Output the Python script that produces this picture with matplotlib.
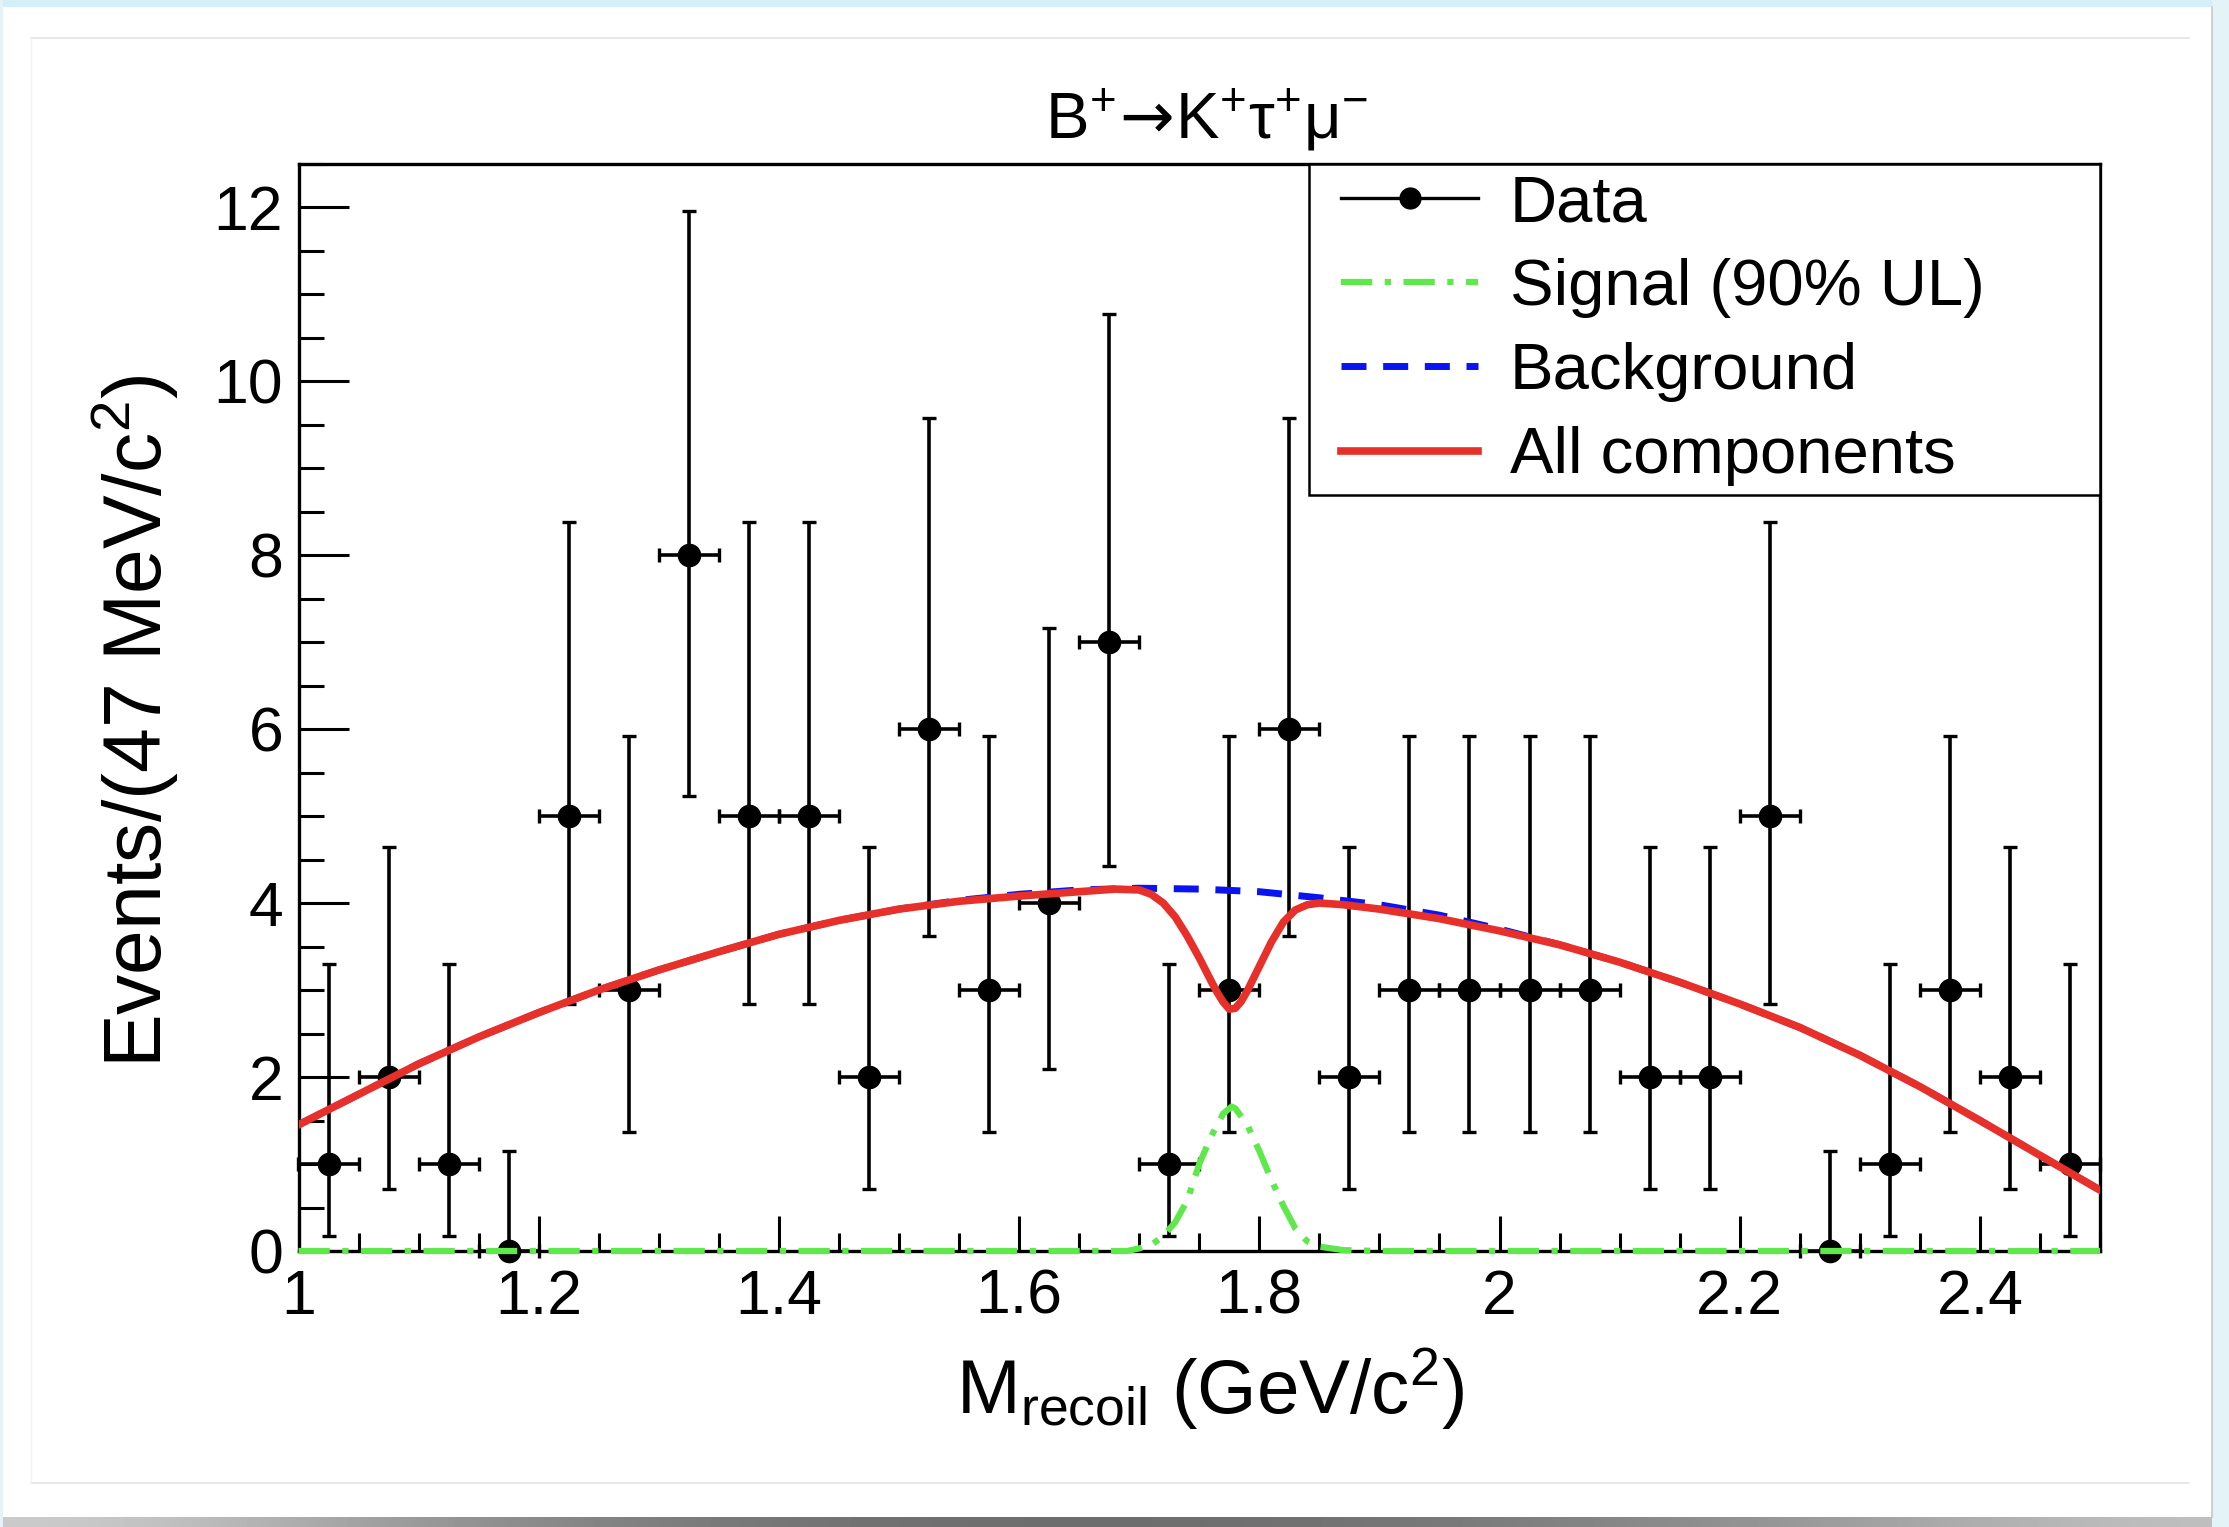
import matplotlib
matplotlib.use('Agg')
import matplotlib.pyplot as plt
from matplotlib.lines import Line2D
from matplotlib.patches import Rectangle
from matplotlib.ticker import MultipleLocator
import numpy as np

plt.rcParams['font.family'] = ['Liberation Sans', 'DejaVu Sans']
plt.rcParams['mathtext.fontset'] = 'custom'
plt.rcParams['mathtext.rm'] = 'Liberation Sans'
plt.rcParams['mathtext.it'] = 'Liberation Sans:italic'
plt.rcParams['mathtext.bf'] = 'Liberation Sans:bold'
plt.rcParams['mathtext.sf'] = 'DejaVu Sans'

W, H = 2229, 1527

# binned data (50 MeV wide bins)
bin_x = [1.025, 1.075, 1.125, 1.175, 1.225, 1.275, 1.325, 1.375, 1.425, 1.475,
         1.525, 1.575, 1.625, 1.675, 1.725, 1.775, 1.825, 1.875, 1.925, 1.975,
         2.025, 2.075, 2.125, 2.175, 2.225, 2.275, 2.325, 2.375, 2.425, 2.475]
counts = [1, 2, 1, 0, 5, 3, 8, 5, 5, 2,
          6, 3, 4, 7, 1, 3, 6, 2, 3, 3,
          3, 3, 2, 2, 5, 0, 1, 3, 2, 1]
# asymmetric poisson errors
err_lo = [0.83, 1.29, 0.83, 0.00, 2.16, 1.63, 2.77, 2.16, 2.16, 1.29,
          2.38, 1.63, 1.91, 2.58, 0.83, 1.63, 2.38, 1.29, 1.63, 1.63,
          1.63, 1.63, 1.29, 1.29, 2.16, 0.00, 0.83, 1.63, 1.29, 0.83]
err_hi = [2.30, 2.64, 2.30, 1.15, 3.38, 2.92, 3.95, 3.38, 3.38, 2.64,
          3.58, 2.92, 3.16, 3.77, 2.30, 2.92, 3.58, 2.64, 2.92, 2.92,
          2.92, 2.92, 2.64, 2.64, 3.38, 1.15, 2.30, 2.92, 2.64, 2.30]
half_bin = 0.025

# background curve
bkg_x = [1.00, 1.05, 1.10, 1.15, 1.20, 1.25, 1.30, 1.35, 1.40, 1.45, 1.50,
         1.55, 1.60, 1.65, 1.70, 1.75, 1.80, 1.85, 1.90, 1.95, 2.00,
         2.05, 2.10, 2.15, 2.20, 2.25, 2.30, 2.35, 2.40, 2.45, 2.50]
bkg_y = [1.45, 1.80, 2.15, 2.46, 2.74, 3.00, 3.23, 3.44, 3.64, 3.80, 3.93,
         4.03, 4.10, 4.15, 4.17, 4.16, 4.13, 4.06, 3.98, 3.86, 3.70,
         3.52, 3.32, 3.09, 2.84, 2.57, 2.25, 1.89, 1.50, 1.10, 0.70]

# signal at the 90% UL
sig_x = [1.00, 1.50, 1.69, 1.70, 1.71, 1.72, 1.73, 1.74, 1.75, 1.76, 1.77, 1.777,
         1.78, 1.79, 1.80, 1.81, 1.82, 1.83, 1.84, 1.85, 1.86, 1.87, 1.90, 2.20, 2.50]
sig_y = [0.00, 0.00, 0.00, 0.03, 0.07, 0.17, 0.33, 0.58, 1.00, 1.32, 1.58, 1.66,
         1.64, 1.45, 1.15, 0.82, 0.52, 0.26, 0.11, 0.05, 0.03, 0.01, 0.00, 0.00, 0.00]

# full fit
tot_x = [1.00, 1.05, 1.10, 1.15, 1.20, 1.25, 1.30, 1.35, 1.40, 1.45, 1.50,
         1.55, 1.60, 1.65, 1.68, 1.70, 1.71, 1.72, 1.73, 1.74, 1.75, 1.76,
         1.765, 1.77, 1.775, 1.78, 1.785, 1.79, 1.80, 1.81, 1.82, 1.83,
         1.84, 1.85, 1.87, 1.90, 1.95, 2.00, 2.05, 2.10, 2.15, 2.20,
         2.25, 2.30, 2.35, 2.40, 2.45, 2.50]
tot_y = [1.45, 1.80, 2.15, 2.46, 2.74, 3.00, 3.23, 3.44, 3.64, 3.80, 3.93,
         4.02, 4.08, 4.13, 4.16, 4.15, 4.10, 4.00, 3.84, 3.62, 3.37, 3.10,
         2.97, 2.86, 2.78, 2.79, 2.87, 2.99, 3.27, 3.55, 3.78, 3.92,
         3.98, 4.00, 3.98, 3.93, 3.82, 3.68, 3.52, 3.32, 3.09, 2.84,
         2.57, 2.25, 1.89, 1.50, 1.10, 0.70]

labels = ['Data', 'Signal (90% UL)', 'Background', 'All components']

GREEN = '#5ee84c'
BLUE = '#0a14f0'
RED = '#e8302a'
sig_style = dict(color=GREEN, lw=4.5, dashes=(5, 2, 1, 2))
bkg_style = dict(color=BLUE, lw=5, dashes=(3.6, 2.4))
tot_style = dict(color=RED, lw=5.5)

fig = plt.figure(figsize=(W / 100, H / 100), dpi=100)
fig.patch.set_facecolor('white')

def fx(px):
    return px / W

def fy(py):
    return 1 - py / H

# page decorations (screenshot frame)
fig.add_artist(Rectangle((0, fy(7)), 1, 7 / H, transform=fig.transFigure,
                         color='#d3f0f9', lw=0))
fig.add_artist(Rectangle((fx(2212), 0), 17 / W, 1, transform=fig.transFigure,
                         color='#e3f3f8', lw=0))
fig.add_artist(Rectangle((0, 0), 3 / W, 1, transform=fig.transFigure,
                         color='#e3f3f8', lw=0))
fig.add_artist(Line2D([fx(2212), fx(2212)], [fy(1517), fy(7)], transform=fig.transFigure,
                      color='#c8c8c8', lw=1.2))
for yy in (38, 1483):
    fig.add_artist(Line2D([fx(31), fx(2189)], [fy(yy), fy(yy)], transform=fig.transFigure,
                          color='#e4e4e4', lw=1.2))
fig.add_artist(Line2D([fx(31), fx(31)], [fy(1483), fy(38)], transform=fig.transFigure,
                      color='#f2f2f2', lw=1.0))
shadow = fig.add_axes([0, 0, 1, 10 / H])
grad = np.array([[0.80, 0.62, 0.50, 0.44, 0.42, 0.45, 0.52, 0.62, 0.75]])
shadow.imshow(grad, aspect='auto', cmap='gray', vmin=0, vmax=1, interpolation='bicubic')
shadow.axis('off')

ax = fig.add_axes([fx(298.5), fy(1251), (2100 - 298.5) / W, (1251 - 163.5) / H])

def xa(px):
    return (px - 298.5) / 1801.5

def ya(py):
    return (1251 - py) / 1087.5

ax.errorbar(bin_x, counts, yerr=[err_lo, err_hi], xerr=half_bin, fmt='o', color='black',
            markersize=16, elinewidth=2.6, capsize=5, capthick=2.4, clip_on=False, zorder=3)
ax.plot(sig_x, sig_y, clip_on=False, zorder=4, **sig_style)
ax.plot(bkg_x, bkg_y, zorder=5, **bkg_style)
ax.plot(tot_x, tot_y, zorder=6, **tot_style)

ax.set_xlim(1.0, 2.5)
ax.set_ylim(0, 12.5)
ax.xaxis.set_minor_locator(MultipleLocator(0.05))
ax.yaxis.set_major_locator(MultipleLocator(2))
ax.yaxis.set_minor_locator(MultipleLocator(0.5))
ax.set_xticks([1.0, 1.2, 1.4, 1.6, 1.8, 2.0, 2.2, 2.4])
ax.set_xticklabels(['1', '1.2', '1.4', '1.6', '1.8', '2', '2.2', '2.4'])

for sp in ax.spines.values():
    sp.set_linewidth(2.4)
ax.tick_params(axis='both', which='both', direction='in', top=False, right=False,
               width=2.2, labelsize=45, colors='black')
ax.tick_params(axis='x', which='major', length=25, pad=12)
ax.tick_params(axis='x', which='minor', length=13)
ax.tick_params(axis='y', which='major', length=36, pad=11)
ax.tick_params(axis='y', which='minor', length=18)

fig.text(fx(1206), fy(139), r'B$^{+}\!\mathsf{\rightarrow}\!$K$^{+}$τ$^{+}$μ$^{-}$',
         ha='center', va='baseline', fontsize=47)
fig.text(fx(1210), fy(1414), r'M$_{\mathrm{recoil}}$ (GeV/c$^{2}$)', ha='center', va='baseline',
         fontsize=55)
fig.text(fx(135), fy(721), r'Events/(47 MeV/c$^{2}$)', ha='center', va='center',
         rotation=90, fontsize=58)

# legend box drawn separately so the padding can match the original
ax.add_patch(Rectangle((xa(1309), ya(495)), 1 - xa(1309), 1 - ya(495), transform=ax.transAxes,
                       facecolor='white', edgecolor='black', lw=1.8, zorder=9, clip_on=False))
handles = [
    Line2D([], [], color='black', lw=2.4, marker='o', markersize=15),
    Line2D([], [], **sig_style),
    Line2D([], [], **bkg_style),
    Line2D([], [], **tot_style),
]
leg = ax.legend(handles, labels, loc='upper left', bbox_to_anchor=(xa(1341), ya(174)),
                borderaxespad=0, borderpad=0, fontsize=47, handlelength=2.1,
                handletextpad=0.49, labelspacing=0.37, frameon=False)
leg.set_zorder(10)

fig.savefig('out.png', dpi=100)
